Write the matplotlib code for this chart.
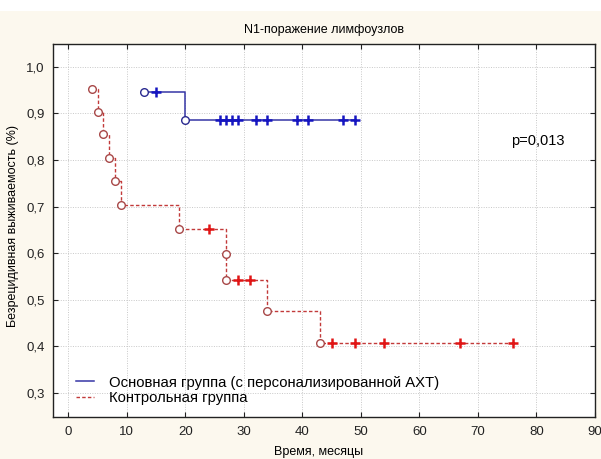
import numpy as np
import matplotlib
matplotlib.use("Agg")
import matplotlib.pyplot as plt
from matplotlib.patches import Rectangle

plt.rcParams['font.family'] = ['Liberation Sans', 'DejaVu Sans']

# основная группа (с персонализированной АХТ)
main_event_t = [13, 20]
main_event_s = [0.945, 0.885]
main_cens_t = [15, 26, 27, 28, 29, 32, 34, 39, 41, 47, 49]
main_end = 49

# контрольная группа
ctrl_event_t = [4, 5, 6, 7, 8, 9, 19, 27, 27, 34, 43]
ctrl_event_s = [0.952, 0.904, 0.855, 0.805, 0.754, 0.703, 0.652, 0.598, 0.543, 0.475, 0.408]
ctrl_cens_t = [24, 29, 31, 45, 49, 54, 67, 76]
ctrl_end = 76

xticks = [0, 10, 20, 30, 40, 50, 60, 70, 80, 90]
yticks = [0.3, 0.4, 0.5, 0.6, 0.7, 0.8, 0.9, 1.0]


def surv_at(t_ev, s_ev, t):
    """значение ступенчатой функции в момент t"""
    i = np.searchsorted(t_ev, t, side='right') - 1
    return np.array(s_ev)[i]


fig = plt.figure(figsize=(6.01, 4.59), dpi=100, facecolor='#fcf8ee')
fig.patches.append(Rectangle((0, 1 - 11 / 459), 1, 11 / 459, transform=fig.transFigure,
                             facecolor='white', edgecolor='none', zorder=-1))
ax = fig.add_axes([52.5 / 601, 1 - 416.7 / 459, 542.5 / 601, 372.7 / 459])
ax.set_facecolor('white')

# линии
tm = main_event_t + [main_end]
sm = main_event_s + [main_event_s[-1]]
ax.step(tm, sm, where='post', color='#3535a5', lw=1.1,
        label='Основная группа (с персонализированной АХТ)')
tc = ctrl_event_t + [ctrl_end]
sc = ctrl_event_s + [ctrl_event_s[-1]]
ax.step(tc, sc, where='post', color='#c23a3a', lw=1.0, ls=(0, (2.5, 1.6)),
        label='Контрольная группа')

# события - кружки
ax.plot(main_event_t, main_event_s, 'o', ms=5.5, mfc='white', mec='#2a2a90', mew=1.0, ls='none')
ax.plot(ctrl_event_t, ctrl_event_s, 'o', ms=5.5, mfc='white', mec='#a84848', mew=1.0, ls='none')

# цензурированные - кресты
ax.plot(main_cens_t, surv_at(main_event_t, main_event_s, main_cens_t), '+', ms=7, mew=1.8,
        color='#1515c0', ls='none')
ax.plot(ctrl_cens_t, surv_at(ctrl_event_t, ctrl_event_s, ctrl_cens_t), '+', ms=7, mew=1.8,
        color='#e01515', ls='none')

ax.text(80.3, 0.84, 'p=0,013', fontsize=10.5, ha='center', va='center')

ax.set_xlim(-2.7, 90)
ax.set_ylim(0.249, 1.049)
ax.set_xticks(xticks)
ax.set_yticks(yticks)
ax.set_yticklabels([('%.1f' % v).replace('.', ',') for v in yticks])
ax.tick_params(direction='in', length=3.5, width=0.8, top=True, right=True,
               labelsize=9.5, colors='#222222')
ax.tick_params(axis='y', pad=5.5)
ax.tick_params(axis='x', pad=7)
ax.grid(True, color='#c8c8c8', ls=(0, (1, 1.5)), lw=0.7)
for sp in ax.spines.values():
    sp.set_color('#222222')
    sp.set_linewidth(1.0)

ax.set_title('N1-поражение лимфоузлов', fontsize=9, pad=8)
ax.set_xlabel('Время, месяцы', fontsize=9, va='center')
ax.set_ylabel('Безрецидивная выживаемость (%)', fontsize=9, va='center')
ax.xaxis.set_label_coords(0.49, (416.7 - 452) / 372.7)
ax.yaxis.set_label_coords((13 - 52.5) / 542.5, 0.512)

ax.legend(loc='upper left', bbox_to_anchor=(0.03, 0.13), frameon=False, fontsize=10.7,
          handlelength=1.2, handletextpad=1.0, labelspacing=0.12, borderpad=0)

fig.savefig('out.png', dpi=100, facecolor=fig.get_facecolor())
